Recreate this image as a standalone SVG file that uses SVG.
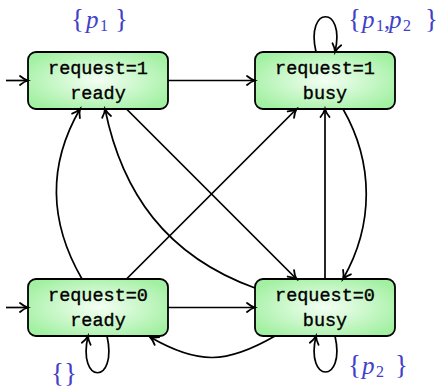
<svg xmlns="http://www.w3.org/2000/svg" width="438" height="388" viewBox="0 0 438 388">
<defs>
<radialGradient id="g" cx="50%" cy="50%" r="60%">
<stop offset="0" stop-color="#f4fff4"/>
<stop offset="1" stop-color="#a2f0a2"/>
</radialGradient>
<marker id="a" markerWidth="14" markerHeight="14" refX="0" refY="0" viewBox="-11 -7 14 14" orient="auto" markerUnits="userSpaceOnUse">
<path d="M-8,-4.5 C-5,-2 -1.8,-0.5 0,0 C-1.8,0.5 -5,2 -8,4.5" fill="none" stroke="#000" stroke-width="1.8" stroke-linecap="round"/>
</marker>
<style>
.box{fill:url(#g);stroke:#000;stroke-width:1.8}
.t{font-family:"Liberation Mono",monospace;font-size:18.5px;text-anchor:middle;fill:#000;stroke:#000;stroke-width:0.35}
.e{fill:none;stroke:#000;stroke-width:1.7;marker-end:url(#a)}
.lab{font-family:"Liberation Serif",serif;font-size:24px;fill:#4040c8}
.br{font-size:27px}
.it{font-style:italic;font-size:25px}
.sub{font-size:16px}
</style>
</defs>
<g id="n1">
<rect class="box" x="28" y="52" width="140" height="57" rx="8"/>
<text class="t" x="98" y="74">request=1</text>
<text class="t" x="98" y="99">ready</text>
</g>
<g id="n2">
<rect class="box" x="255" y="52" width="140" height="57" rx="8"/>
<text class="t" x="325" y="74">request=1</text>
<text class="t" x="325" y="99">busy</text>
</g>
<g id="n3">
<rect class="box" x="28" y="279" width="140" height="57" rx="8"/>
<text class="t" x="98" y="301">request=0</text>
<text class="t" x="98" y="326">ready</text>
</g>
<g id="n4">
<rect class="box" x="255" y="279" width="140" height="57" rx="8"/>
<text class="t" x="325" y="301">request=0</text>
<text class="t" x="325" y="326">busy</text>
</g>
<g id="edges">
<path class="e" d="M6,80.5 L28,80.5"/>
<path class="e" d="M6,307.5 L28,307.5"/>
<path class="e" d="M168,80.5 L255,80.5"/>
<path class="e" d="M168,307.5 L255,307.5"/>
<path class="e" d="M126.5,109 L296.5,279"/>
<path class="e" d="M126.5,279 L296.5,109"/>
<path class="e" d="M325,279 L325,109"/>
<path class="e" d="M82,279 C49,222 47,166 80,109"/>
<path class="e" d="M255,288 C165.7,255.7 122,192.3 105,109"/>
<path class="e" d="M343,109 C374,163 374,225 343,279"/>
<path class="e" d="M275,336 C226.5,364 198.5,365 150,337"/>
<path class="e" d="M316,52 C305,5 346,5 335,52"/>
<path class="e" d="M107,336 C118,385 77,385 88,336"/>
<path class="e" d="M335,336 C346,384 305,384 316,336"/>
</g>
<g id="labels">
<text class="lab" y="28"><tspan class="br" x="71">{</tspan><tspan class="it" x="86">p</tspan><tspan class="sub" x="100" dy="3">1</tspan><tspan class="br" x="115" dy="-3">}</tspan></text>
<text class="lab" y="28"><tspan class="br" x="348">{</tspan><tspan class="it" x="362">p</tspan><tspan class="sub" x="376" dy="3">1</tspan><tspan x="384" dy="-3">,</tspan><tspan class="it" x="389">p</tspan><tspan class="sub" x="403" dy="3">2</tspan><tspan class="br" x="425" dy="-3">}</tspan></text>
<text class="lab" y="382"><tspan class="br" x="51">{}</tspan></text>
<text class="lab" y="374"><tspan class="br" x="348">{</tspan><tspan class="it" x="362">p</tspan><tspan class="sub" x="376" dy="3">2</tspan><tspan class="br" x="395" dy="-3">}</tspan></text>
</g>
</svg>
